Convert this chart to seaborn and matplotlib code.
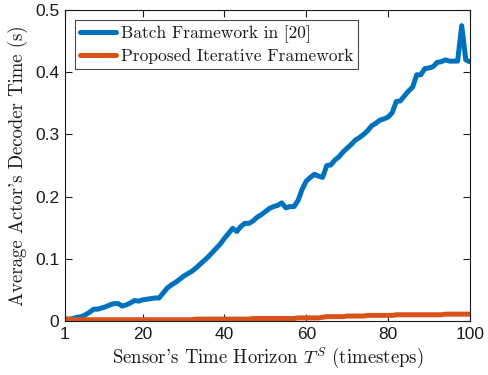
import numpy as np
import matplotlib.pyplot as plt
import seaborn as sns
import pandas as pd

horizon = list(range(1, 101))

batch_time = [
    0.003, 0.003, 0.004, 0.006, 0.007, 0.010, 0.014, 0.019, 0.019, 0.021,
    0.023, 0.026, 0.028, 0.028, 0.024, 0.026, 0.029, 0.033, 0.032, 0.034,
    0.035, 0.036, 0.037, 0.037, 0.045, 0.053, 0.058, 0.062, 0.067, 0.072,
    0.076, 0.080, 0.085, 0.091, 0.097, 0.103, 0.110, 0.117, 0.124, 0.133,
    0.141, 0.149, 0.144, 0.152, 0.157, 0.157, 0.161, 0.167, 0.171, 0.176,
    0.181, 0.184, 0.186, 0.190, 0.182, 0.184, 0.184, 0.194, 0.212, 0.225,
    0.231, 0.236, 0.233, 0.231, 0.250, 0.251, 0.259, 0.264, 0.272, 0.278,
    0.284, 0.291, 0.295, 0.300, 0.306, 0.314, 0.318, 0.323, 0.325, 0.328,
    0.335, 0.353, 0.354, 0.362, 0.370, 0.376, 0.396, 0.396, 0.406, 0.407,
    0.409, 0.416, 0.417, 0.420, 0.418, 0.418, 0.418, 0.475, 0.420, 0.417,
]

iterative_time = [
    0.003, 0.003, 0.002, 0.002, 0.002, 0.002, 0.002, 0.002, 0.002, 0.002,
    0.002, 0.002, 0.002, 0.002, 0.002, 0.002, 0.002, 0.002, 0.002, 0.002,
    0.002, 0.002, 0.002, 0.002, 0.002, 0.002, 0.002, 0.002, 0.002, 0.002,
    0.002, 0.002, 0.003, 0.003, 0.003, 0.003, 0.003, 0.003, 0.003, 0.003,
    0.003, 0.003, 0.003, 0.003, 0.003, 0.003, 0.004, 0.004, 0.004, 0.004,
    0.004, 0.004, 0.004, 0.004, 0.004, 0.004, 0.004, 0.005, 0.005, 0.005,
    0.005, 0.005, 0.005, 0.006, 0.007, 0.007, 0.007, 0.007, 0.007, 0.008,
    0.008, 0.008, 0.008, 0.008, 0.009, 0.009, 0.009, 0.009, 0.009, 0.009,
    0.009, 0.010, 0.010, 0.010, 0.010, 0.010, 0.010, 0.010, 0.010, 0.010,
    0.010, 0.010, 0.010, 0.011, 0.011, 0.011, 0.011, 0.011, 0.011, 0.011,
]

series_names = ["Batch Framework in [20]", "Proposed Iterative Framework"]
colors = ["#0072BD", "#D95319"]
xticks = [1, 20, 40, 60, 80, 100]
yticks = [0, 0.1, 0.2, 0.3, 0.4, 0.5]
ytick_labels = ["0", "0.1", "0.2", "0.3", "0.4", "0.5"]

df = pd.DataFrame({
    "horizon": horizon * 2,
    "time": batch_time + iterative_time,
    "method": [series_names[0]] * len(horizon) + [series_names[1]] * len(horizon),
})

sns.set_style("ticks")
plt.rcParams["font.family"] = ["Liberation Sans", "DejaVu Sans"]
plt.rcParams["mathtext.fontset"] = "cm"

fig = plt.figure(figsize=(4.89, 3.75), dpi=100)
ax = fig.add_axes([0.1329, 0.144, 0.828, 0.829])

sns.lineplot(data=df, x="horizon", y="time", hue="method", palette=colors,
             linewidth=3.6, ax=ax)

ax.set_xlim(1, 100)
ax.set_ylim(0, 0.5)
ax.set_xticks(xticks)
ax.set_yticks(yticks)
ax.set_yticklabels(ytick_labels)
ax.tick_params(direction="in", top=True, right=True, labelsize=12.5,
               length=5, width=0.8, colors="#1a1a1a", pad=4)
for s in ax.spines.values():
    s.set_visible(True)
    s.set_linewidth(0.8)
    s.set_color("#1a1a1a")

ax.set_xlabel(r"Sensor's Time Horizon $T^S$ (timesteps)", family="cmr10",
              fontsize=13.5, color="#1a1a1a", labelpad=3)
ax.set_ylabel("Average Actor's Decoder Time (s)", family="cmr10",
              fontsize=13.5, color="#1a1a1a", labelpad=5)

leg = ax.legend(loc="upper left", prop={"family": "cmr10", "size": 12.5},
                frameon=True, fancybox=False, edgecolor="#1a1a1a",
                handlelength=2.1, handletextpad=0.25, borderaxespad=0.55,
                labelspacing=0.3, borderpad=0.3)
leg.get_frame().set_linewidth(0.8)
for t in leg.get_texts():
    t.set_color("#1a1a1a")

fig.savefig("out.png", dpi=100)
